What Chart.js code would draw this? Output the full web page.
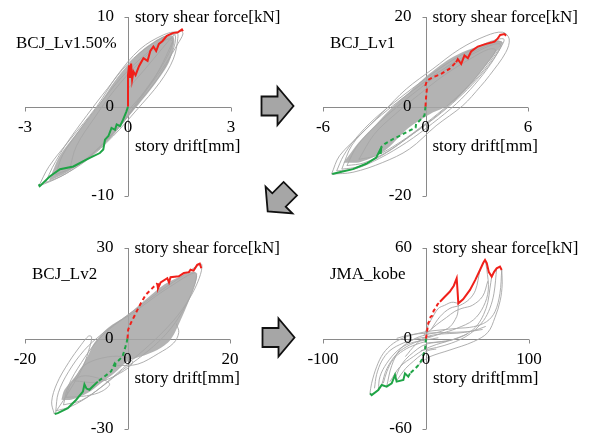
<!DOCTYPE html>
<html>
<head>
<meta charset="utf-8">
<script src="https://cdn.jsdelivr.net/npm/chart.js@4.4.1/dist/chart.umd.min.js"></script>
<style>
  body { margin: 0; background: #fff; width: 590px; height: 439px; position: relative; overflow: hidden; }
  canvas { position: absolute; }
  #arrows { position: absolute; left: 0; top: 0; pointer-events: none; }
</style>
</head>
<body>
<canvas id="c1" width="295" height="220" style="left:0;top:0"></canvas>
<canvas id="c2" width="295" height="220" style="left:295px;top:0"></canvas>
<canvas id="c3" width="295" height="219" style="left:0;top:220px"></canvas>
<canvas id="c4" width="295" height="219" style="left:295px;top:220px"></canvas>
<svg id="arrows" width="590" height="439">
  <defs><path id="arr" d="M-16,-9.5 L0,-9.5 L0,-19 L16,0 L0,19 L0,9.5 L-16,9.5 Z"/></defs>
  <g fill="#a6a6a6" stroke="#111" stroke-width="1.8" stroke-linejoin="miter">
    <use href="#arr" transform="translate(277.5,106)"/>
    <use href="#arr" transform="translate(279,200) rotate(135)"/>
    <use href="#arr" transform="translate(278.5,337.5)"/>
  </g>
</svg>
<script>
// axis labels
const yTitle = 'story shear force[kN]';
const xTitle = 'story drift[mm]';

// ---- BCJ_Lv1.50% ----
const lv150Name = 'BCJ_Lv1.50%';
const lv150XTicks = [-3, 0, 3];
const lv150YTicks = [-10, 0, 10];
const lv150Core = [[-2.3,-8.3],[-1.8,-7.4],[-1.1,-5.6],[-0.45,-3.2],[0.15,-0.5],[0.8,2.6],[1.2,5.0],[1.35,7.2],[1.3,7.9],[1.0,7.8],[0.35,6.1],[-0.3,3.3],[-0.85,0.2],[-1.5,-3.0],[-2.0,-5.6],[-2.3,-8.3]];
const lv150Gray = [
  [[-2.6,-8.9],[-2.0,-7.9],[-1.2,-6.0],[-0.43,-3.3],[0.25,-0.4],[0.93,2.7],[1.32,5.3],[1.45,7.6],[1.42,8.3],[1.03,8.0],[0.35,6.4],[-0.33,3.4],[-0.91,0],[-1.69,-3.7],[-2.3,-6.7],[-2.6,-8.9]],
  [[-2.4,-8.5],[-1.8,-7.5],[-1.0,-5.2],[-0.3,-2.4],[0.35,0.6],[0.95,3.6],[1.3,6.2],[1.38,7.9],[1.2,8.0],[0.7,7.0],[0.0,4.8],[-0.6,2.0],[-1.2,-1.0],[-1.8,-4.2],[-2.2,-6.8],[-2.4,-8.5]],
  [[-2.1,-7.6],[-1.5,-6.6],[-0.8,-4.4],[-0.1,-1.4],[0.5,1.8],[1.0,4.6],[1.3,7.2],[1.1,7.5],[0.5,5.8],[-0.2,3.2],[-0.8,0.4],[-1.4,-2.6],[-1.9,-5.4],[-2.1,-7.6]],
  [[-1.7,-7.0],[-1.1,-5.6],[-0.4,-3.0],[0.2,0.0],[0.8,3.4],[1.2,6.4],[1.3,7.6],[1.0,7.2],[0.3,4.8],[-0.4,1.8],[-1.0,-1.4],[-1.5,-4.4],[-1.7,-7.0]],
  [[0.0,2.0],[0.5,4.2],[1.0,6.5],[1.35,8.0],[1.55,8.4],[1.6,8.1],[1.45,7.0],[1.1,4.8],[0.6,2.2],[0.0,-0.5]]
];
const lv150Red = [[0,0],[0,1.5],[0,3.5],[0.03,4.6],[0.06,3.2],[0.09,4.8],[0.12,3.0],[0.16,3.9],[0.22,3.5],[0.32,4.5],[0.45,5.4],[0.57,5.1],[0.65,6.2],[0.74,6.7],[0.82,6.2],[0.9,7.0],[1.0,7.3],[1.13,7.9],[1.3,8.2],[1.45,8.3],[1.57,8.6],[1.6,8.4]];
const lv150Green = [[0,0],[-0.05,-0.6],[-0.14,-1.45],[-0.23,-2.2],[-0.33,-2.0],[-0.38,-2.6],[-0.48,-2.4],[-0.57,-3.3],[-0.67,-3.7],[-0.72,-4.8],[-0.82,-5.2],[-1.2,-5.9],[-1.59,-6.7],[-1.98,-7.0],[-2.27,-7.8],[-2.57,-8.9],[-2.6,-8.7]];

// ---- BCJ_Lv1 ----
const lv1Name = 'BCJ_Lv1';
const lv1XTicks = [-6, 0, 6];
const lv1YTicks = [-20, 0, 20];
const lv1Core = [[-4.8,-12.6],[-3.8,-12.4],[-2.4,-9.9],[-1.0,-4.8],[0.3,-1.6],[1.4,0.4],[2.4,3.9],[3.35,8.2],[4.1,12.0],[4.5,14.3],[4.2,14.8],[3.4,13.8],[2.4,12.5],[1.4,10.6],[0.1,6.9],[-0.9,3.4],[-1.9,0.0],[-2.9,-4.0],[-3.9,-8.0],[-4.8,-12.6]];
const lv1Gray = [
  [[-5.5,-15.1],[-4.25,-14.7],[-2.5,-12.5],[-0.94,-9.5],[0.62,-4.3],[2.18,0.2],[3.2,4.4],[3.74,6.9],[4.7,12.1],[4.9,15.1],[4.52,16.6],[3.55,15.8],[1.99,12.8],[0.43,8.4],[-1.13,3.9],[-2.5,-1.3],[-3.86,-6.5],[-5.03,-11.0],[-5.5,-15.1]],
  [[-5.2,-14.4],[-4.1,-13.9],[-2.7,-11.6],[-1.1,-8.0],[0.4,-3.8],[1.8,0.6],[2.9,5.0],[3.8,9.4],[4.4,13.2],[4.6,15.0],[4.2,15.0],[3.1,13.4],[1.6,10.4],[0.0,6.2],[-1.6,1.6],[-3.0,-2.8],[-4.1,-7.2],[-4.8,-11.0],[-5.2,-14.4]],
  [[-4.9,-14.0],[-3.9,-13.4],[-2.4,-10.6],[-0.9,-6.6],[0.6,-2.4],[1.9,1.8],[3.0,6.0],[3.9,10.2],[4.5,14.2],[4.1,14.4],[2.9,12.4],[1.3,9.0],[-0.3,4.8],[-1.9,0.2],[-3.2,-4.0],[-4.3,-8.6],[-4.9,-14.0]],
  [[-4.6,-13.2],[-3.6,-12.6],[-2.2,-10.0],[-0.7,-6.0],[0.8,-1.6],[2.1,2.8],[3.2,7.2],[4.0,11.2],[4.4,13.8],[4.0,13.9],[2.9,12.0],[1.4,8.8],[-0.2,4.4],[-1.7,-0.2],[-3.0,-4.6],[-4.0,-8.8],[-4.6,-13.2]],
  [[-3.9,-11.8],[-2.9,-11.0],[-1.5,-8.0],[0.0,-3.8],[1.4,0.6],[2.6,5.0],[3.5,9.2],[4.1,12.6],[3.7,12.8],[2.6,10.6],[1.1,7.0],[-0.4,2.6],[-1.8,-1.8],[-3.0,-6.2],[-3.9,-11.8]]
];
const lv1RedDash = [[0,0],[0.04,2.4],[0.08,3.9],[0,4.7],[0.08,5.8],[0.43,6.5],[0.92,7.3],[1.4,8.4],[1.79,9.9]];
const lv1Red = [[1.79,9.9],[1.89,10.6],[2.09,9.5],[2.28,11.4],[2.48,10.8],[2.67,12.3],[3.06,13.4],[3.55,14.0],[4.04,14.5],[4.23,15.2],[4.37,16.0],[4.62,16.2],[4.72,15.8]];
const lv1GreenDash = [[0,0],[-0.06,-2.0],[-0.25,-2.8],[-0.55,-3.9],[-0.58,-4.7],[-1.13,-5.8],[-1.91,-7.3],[-2.4,-8.4],[-2.59,-9.1]];
const lv1Green = [[-2.59,-9.1],[-2.62,-10.4],[-2.65,-9.6],[-2.88,-11.4],[-3.47,-12.8],[-4.25,-14.0],[-5.03,-14.7],[-5.46,-15.1]];

// ---- BCJ_Lv2 ----
const lv2Name = 'BCJ_Lv2';
const lv2XTicks = [-20, 0, 20];
const lv2YTicks = [-30, 0, 30];
const lv2Core = [[-12.9,-20.3],[-11.0,-20.3],[-7.8,-18.1],[-5.2,-14.8],[-2.6,-11.5],[0,-7.6],[2.6,-6.0],[5.8,-3.8],[8.4,-0.4],[10.4,6.2],[12.3,13.9],[13.6,20.6],[12.9,22.2],[11.0,21.1],[7.1,17.8],[3.9,13.4],[0,7.8],[-3.9,3.4],[-6.5,-1.5],[-7.8,-6.0],[-9.7,-11.5],[-12.3,-17.0],[-12.9,-20.3]];
const lv2Gray = [
  [[-14.3,-25.0],[-14.8,-21.0],[-13.8,-15.0],[-11.5,-8.0],[-9.0,-2.0],[-7.6,0.8],[-7.0,0.5],[-7.4,-3.0],[-8.6,-9.0],[-10.5,-15.0],[-12.5,-20.5],[-14.3,-25.0]],
  [[-14.0,-24.0],[-11.0,-22.5],[-7.0,-18.5],[-3.0,-13.0],[1.0,-7.0],[5.0,-1.0],[9.0,6.0],[12.0,13.0],[14.0,20.0],[14.5,24.5],[13.5,24.0],[11.0,21.0],[7.0,16.5],[3.0,11.5],[-1.0,6.5],[-5.0,1.5],[-8.5,-4.0],[-11.5,-11.0],[-13.5,-18.0],[-14.0,-24.0]],
  [[-12.5,-22.0],[-9.0,-20.5],[-5.0,-16.0],[-1.0,-10.5],[3.0,-5.5],[7.0,0.5],[10.0,7.0],[12.5,15.0],[13.5,21.5],[12.5,21.5],[9.5,18.5],[5.5,14.0],[1.5,9.0],[-2.5,4.5],[-6.0,-1.0],[-9.0,-8.0],[-11.5,-15.5],[-12.5,-22.0]],
  [[-2.0,-9.0],[2.0,-8.5],[6.0,-5.0],[9.0,-1.5],[10.0,2.0],[9.5,5.0]],
  [[-12.0,-19.5],[-8.0,-19.0],[-5.0,-17.5],[-3.5,-15.0],[-6.0,-13.0],[-9.0,-12.5],[-11.0,-15.0],[-12.0,-19.5]],
  [[-10.5,-14.0],[-6.0,-14.5],[-2.0,-12.0],[1.0,-8.0],[-1.0,-6.0],[-5.0,-6.5],[-8.5,-9.0],[-10.5,-14.0]]
];
const lv2RedDash = [[0,0],[0.13,2.9],[0.65,5.1],[1.3,7.3],[1.94,9.5],[2.6,11.7],[3.56,14.5],[4.85,16.7],[5.8,18.3]];
const lv2Red = [[5.8,18.3],[5.95,16.6],[6.47,18.6],[7.77,20.0],[8.1,18.6],[8.4,20.3],[10.0,20.6],[11.0,21.7],[12.0,22.0],[12.3,22.8],[12.9,22.5],[13.6,24.4],[14.1,24.8],[14.4,23.3]];
const lv2GreenDash = [[0,0],[-0.13,-1.0],[-0.39,-2.65],[-0.97,-6.0],[-1.94,-7.6],[-2.33,-8.2],[-2.46,-9.8],[-2.6,-8.6],[-3.2,-10.9],[-4.5,-12.6],[-5.8,-14.3]];
const lv2Green = [[-5.8,-14.3],[-6.8,-15.9],[-7.44,-17.0],[-8.0,-16.6],[-8.4,-15.2],[-8.7,-17.6],[-10.0,-20.3],[-11.65,-23.1],[-13.6,-24.75],[-14.2,-25.0]];

// ---- JMA_kobe ----
const kobeName = 'JMA_kobe';
const kobeXTicks = [-100, 0, 100];
const kobeYTicks = [-60, 0, 60];
const kobeGray = [
  [[-54.4,-36.4],[-52.8,-29.7],[-47.9,-18.7],[-41.4,-9.8],[-31.7,-3.2],[-18.8,1.2],[0,4.5],[13.6,5.6],[29.8,6.7],[46,7.8],[58.9,11.2],[67,17.8],[71.8,30],[73.5,45.4]],
  [[73.5,45.4],[74,36],[72,25],[67,14],[60,4],[46,-2.1],[23.3,-7.6],[3.9,-12.0],[-3,-15],[-8,-18]],
  [[-46.3,-34.1],[-44.7,-25.3],[-38.2,-16.5],[-26.9,-7.6],[-15.5,-3.2],[0,-1],[12,0.5]],
  [[57.3,52],[59,46],[60.5,32.2],[55.7,21.1],[46,12.3],[29.8,6.7],[13.6,3],[0,0],[-15,-4],[-28,-10],[-38,-20],[-43,-30.8]],
  [[31.4,23.3],[31,18],[29.8,14.5],[23.3,7.8],[13.6,4.5],[0,2.5],[-12,-0.5],[-25,-7],[-33.3,-18],[-38.2,-31.9]],
  [[0,-3],[15,-2],[30,0],[42,4],[50,9],[56,16],[60,24],[62,33],[63.8,41]],
  [[-5,-8],[10,-6],[25,-3],[38,1],[48,6],[56,12],[62,20],[66,30],[68.6,46.5]],
  [[5,6],[13.6,14.5],[23.3,20],[33,22],[42,26],[48,32],[52.4,45.4]],
  [[0,3],[10,9],[20,14],[28,18],[35,20],[45,22],[55,28],[60,38]],
  [[-35,-28.6],[-25.2,-18.7],[-12.3,-12],[-2.6,-7.6],[10,-4],[25,-1],[40,3]],
  [[-28.5,-28],[-20,-20],[-12,-15],[-5,-11],[2,-8],[10,-7]],
  [[-28.5,0.1],[-15,2.5],[0,3.5],[20,4],[40,4.5],[55,6]],
  [[-20,-12],[-10,-4],[0,1],[15,3],[30,3.5],[45,5],[58,8]],
  [[-50,-33],[-48,-24],[-43,-15],[-35,-8],[-22,-3],[-8,0],[5,1.5]],
  [[-41.4,-29.6],[-38,-22],[-32,-14],[-22,-8],[-10,-4],[0,-2]],
  [[-30,-27],[-26,-20],[-20,-14],[-12,-9],[-4,-5],[5,-3],[20,-2]],
  [[-2,2],[3,10],[8,16],[12,20],[18,22],[25,24],[31.4,23.3]]
];
const kobeRedDash = [[0,0],[0.8,3.5],[1.5,7],[2.3,10.5],[3.5,11.5],[4.5,14.5],[6,15],[7.5,18.5],[9.5,20],[11,22.5],[13.6,24.4]];
const kobeRed = [[13.6,24.4],[18,27.5],[23,31],[27,35],[29.8,39.9],[30.5,33],[31.4,23.3],[36,26],[42.7,32.2],[48,39],[52.4,45.4],[55.5,50],[57.3,52],[59,50],[61,44],[63.8,41],[66,44],[68.6,46.5],[71.8,47.6],[73.5,45.4]];
const kobeGreenDash = [[0,0],[-1,-7.6],[-4.2,-14.3],[-7.4,-17.6],[-10.5,-20],[-15.5,-23.1]];
const kobeGreen = [[-15.5,-23.1],[-17.2,-25.3],[-20.4,-23.1],[-22,-27.5],[-28.5,-28.6],[-30.1,-24.2],[-33.3,-29.7],[-38.2,-31.9],[-43,-30.8],[-46.3,-34.1],[-52.8,-37.5],[-54.4,-36.4]];

const RED = '#f0201a';
const GREEN = '#1fa446';
const GRAY = '#a6a6a6';
const FONT = '17px "Liberation Serif", "Times New Roman", serif';

function pts(a) { return a.map(p => ({ x: p[0], y: p[1] })); }

function buildSets(core, gray, parts) {
  const sets = [];
  if (core) {
    sets.push({ data: pts(core), showLine: true, fill: 'shape', backgroundColor: 'rgba(166,166,166,0.85)',
      borderWidth: 0, tension: 0.3, order: 10 });
  }
  gray.forEach(g => sets.push({ data: pts(g), showLine: true, borderColor: GRAY, borderWidth: 0.9, tension: 0.35, order: 5 }));
  parts.forEach(p => sets.push({ data: pts(p.d), showLine: true, borderColor: p.c, borderWidth: 2,
    borderDash: p.dash ? [4, 3] : [], tension: 0, order: 0 }));
  return sets;
}

const crossAxes = {
  id: 'crossAxes',
  beforeDatasetsDraw(chart, args, o) {
    const { ctx, scales: { x, y } } = chart;
    const x0 = Math.round(x.getPixelForValue(0)) + 0.5;
    const y0 = Math.round(y.getPixelForValue(0)) + 0.5;
    ctx.save();
    ctx.strokeStyle = '#8a8a8a';
    ctx.lineWidth = 1;
    ctx.beginPath();
    ctx.moveTo(x.left, y0); ctx.lineTo(x.right, y0);
    ctx.moveTo(x0, y.top); ctx.lineTo(x0, y.bottom);
    o.xTicks.forEach(v => { const p = Math.round(x.getPixelForValue(v)) + 0.5; ctx.moveTo(p, y0); ctx.lineTo(p, y0 + 4); });
    o.yTicks.forEach(v => { const p = Math.round(y.getPixelForValue(v)) + 0.5; ctx.moveTo(x0, p); ctx.lineTo(x0 - 4, p); });
    ctx.stroke();
    ctx.restore();
  },
  afterDatasetsDraw(chart, args, o) {
    const { ctx, scales: { x, y } } = chart;
    const x0 = x.getPixelForValue(0);
    const y0 = y.getPixelForValue(0);
    ctx.save();
    ctx.font = FONT;
    ctx.fillStyle = '#000';
    ctx.textBaseline = 'middle';
    ctx.textAlign = 'center';
    o.xTicks.forEach(v => ctx.fillText(String(v), x.getPixelForValue(v), y0 + 21));
    ctx.textAlign = 'right';
    o.yTicks.forEach(v => ctx.fillText(String(v), x0 - 14, y.getPixelForValue(v)));
    ctx.textAlign = 'left';
    ctx.fillText(yTitle, x0 + 7, y.top + 1);
    ctx.fillText(xTitle, x0 + 7, y0 + 40);
    ctx.fillText(o.name, o.nameX, y.top + 27);
    ctx.restore();
  }
};

function makeChart(id, pad, xr, yr, sets, axes) {
  new Chart(document.getElementById(id), {
    type: 'scatter',
    data: { datasets: sets },
    options: {
      responsive: false,
      animation: false,
      layout: { padding: pad },
      elements: { point: { radius: 0 } },
      scales: {
        x: { type: 'linear', min: xr[0], max: xr[1], display: false },
        y: { type: 'linear', min: yr[0], max: yr[1], display: false }
      },
      plugins: { legend: { display: false }, tooltip: { enabled: false }, crossAxes: axes }
    },
    plugins: [crossAxes]
  });
}

makeChart('c1', { left: 25, right: 64, top: 17, bottom: 24 }, [-3, 3], [-10, 10],
  buildSets(lv150Core, lv150Gray, [{ d: lv150Red, c: RED }, { d: lv150Green, c: GREEN }]),
  { xTicks: lv150XTicks, yTicks: lv150YTicks, name: lv150Name, nameX: 16 });

makeChart('c2', { left: 28, right: 62, top: 17, bottom: 24 }, [-6, 6], [-20, 20],
  buildSets(lv1Core, lv1Gray, [{ d: lv1RedDash, c: RED, dash: true }, { d: lv1Red, c: RED },
    { d: lv1GreenDash, c: GREEN, dash: true }, { d: lv1Green, c: GREEN }]),
  { xTicks: lv1XTicks, yTicks: lv1YTicks, name: lv1Name, nameX: 35 });

makeChart('c3', { left: 25, right: 65, top: 28, bottom: 10 }, [-20, 20], [-30, 30],
  buildSets(lv2Core, lv2Gray, [{ d: lv2RedDash, c: RED, dash: true }, { d: lv2Red, c: RED },
    { d: lv2GreenDash, c: GREEN, dash: true }, { d: lv2Green, c: GREEN }]),
  { xTicks: lv2XTicks, yTicks: lv2YTicks, name: lv2Name, nameX: 32 });

makeChart('c4', { left: 28, right: 61, top: 28, bottom: 10 }, [-100, 100], [-60, 60],
  buildSets(null, kobeGray, [{ d: kobeRedDash, c: RED, dash: true }, { d: kobeRed, c: RED },
    { d: kobeGreenDash, c: GREEN, dash: true }, { d: kobeGreen, c: GREEN }]),
  { xTicks: kobeXTicks, yTicks: kobeYTicks, name: kobeName, nameX: 35 });
</script>
</body>
</html>
